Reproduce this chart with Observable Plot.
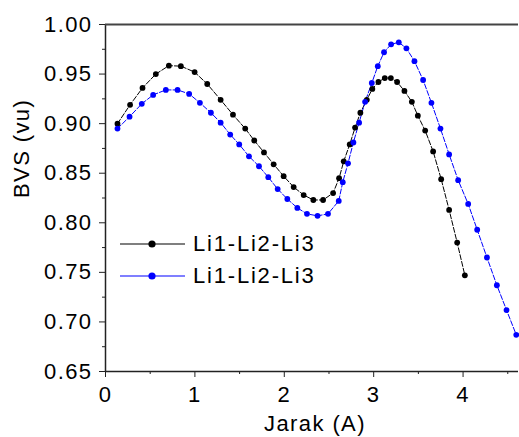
<!DOCTYPE html>
<html>
<head>
<meta charset="utf-8">
<script src="https://cdn.jsdelivr.net/npm/d3@7"></script>
<script src="https://cdn.jsdelivr.net/npm/@observablehq/plot@0.6"></script>
<style>
  html, body { margin: 0; padding: 0; background: #fff; }
  #wrap { position: relative; width: 519px; height: 437px; }
  #legend { position: absolute; left: 0; top: 0; font-family: "Liberation Sans", Arial, sans-serif; font-size: 22px; letter-spacing: 1.8px; }
  .row { position: absolute; display: flex; align-items: center; white-space: nowrap; }
</style>
</head>
<body>
<div id="wrap"></div>
<script>
// Series 1 (black)
const blackX = [0.134,0.275,0.414,0.563,0.709,0.843,0.997,1.138,1.288,1.426,1.563,1.664,1.773,1.881,1.993,2.105,2.217,2.325,2.434,2.546,2.613,2.665,2.732,2.792,2.851,2.923,2.985,3.053,3.124,3.192,3.262,3.344,3.427,3.494,3.576,3.665,3.755,3.844,3.934,4.020];
const blackY = [0.900,0.919,0.936,0.950,0.9585,0.958,0.952,0.940,0.924,0.909,0.895,0.883,0.871,0.859,0.847,0.836,0.828,0.823,0.823,0.830,0.845,0.862,0.879,0.896,0.911,0.924,0.935,0.942,0.946,0.946,0.942,0.933,0.922,0.908,0.893,0.872,0.844,0.813,0.780,0.747];
// Series 2 (blue)
const blueX = [0.134,0.269,0.406,0.533,0.675,0.806,0.936,1.056,1.179,1.288,1.395,1.496,1.605,1.717,1.821,1.926,2.034,2.146,2.254,2.372,2.489,2.609,2.654,2.713,2.773,2.837,2.904,2.979,3.046,3.116,3.195,3.281,3.366,3.456,3.553,3.646,3.747,3.844,3.945,4.057,4.158,4.267,4.378,4.486,4.595];
const blueY = [0.895,0.907,0.920,0.929,0.934,0.934,0.930,0.921,0.911,0.901,0.889,0.879,0.867,0.857,0.846,0.834,0.824,0.815,0.809,0.807,0.809,0.822,0.841,0.860,0.881,0.901,0.922,0.941,0.958,0.972,0.980,0.982,0.976,0.963,0.944,0.921,0.895,0.869,0.843,0.819,0.793,0.765,0.737,0.712,0.687];

const seriesNames = ["Li1-Li2-Li3", "Li1-Li2-Li3"];
const seriesColors = ["#000000", "#0000ff"];
const xLabel = "Jarak (A)";
const yLabel = "BVS (vu)";
const xMajor = [0, 1, 2, 3, 4];
const xMinor = [0.5, 1.5, 2.5, 3.5, 4.5];
const yMajor = [0.65, 0.70, 0.75, 0.80, 0.85, 0.90, 0.95, 1.00];
const yMinor = [0.675, 0.725, 0.775, 0.825, 0.875, 0.925, 0.975];

const black = blackX.map((x, i) => ({x, y: blackY[i]}));
const blue = blueX.map((x, i) => ({x, y: blueY[i]}));

const axisColor = "#222";

const chart = Plot.plot({
  width: 519,
  height: 437,
  marginLeft: 105,
  marginRight: 1,
  marginTop: 24,
  marginBottom: 66,
  style: {fontFamily: "'Liberation Sans', Arial, sans-serif", fontSize: "22px", letterSpacing: "1.4px", color: "#000", background: "#fff", overflow: "visible"},
  x: {domain: [0, 4.62]},
  y: {domain: [0.65, 1.0]},
  marks: [
    Plot.axisX(xMajor, {tickSize: 6, tickPadding: 9, tickFormat: d => d3.format("d")(d), label: null, stroke: axisColor}),
    Plot.axisX(xMinor, {tickSize: 3, tickFormat: () => "", label: null, stroke: axisColor}),
    Plot.axisY(yMajor, {tickSize: 6, tickPadding: 7, tickFormat: d3.format(".2f"), label: null, stroke: axisColor}),
    Plot.axisY(yMinor, {tickSize: 3, tickFormat: () => "", label: null, stroke: axisColor}),
    Plot.ruleX([0], {stroke: axisColor, strokeWidth: 1.5}),
    Plot.ruleY([0.65], {stroke: axisColor, strokeWidth: 1.5}),
    Plot.ruleY([1.0], {stroke: "#444", strokeWidth: 2}),
    Plot.line(black, {x: "x", y: "y", stroke: seriesColors[0], strokeWidth: 1, strokeDasharray: "5,2"}),
    Plot.line(blue, {x: "x", y: "y", stroke: seriesColors[1], strokeWidth: 1, strokeDasharray: "5,2"}),
    Plot.dot(black, {x: "x", y: "y", r: 2.9, fill: seriesColors[0], stroke: "none"}),
    Plot.dot(blue, {x: "x", y: "y", r: 2.9, fill: seriesColors[1], stroke: "none"}),
    Plot.text([xLabel], {frameAnchor: "bottom", dx: 3, dy: 59, fontSize: 22, letterSpacing: "1.6px"}),
    Plot.text([yLabel], {frameAnchor: "left", rotate: -90, dx: -84, fontSize: 22, letterSpacing: "1.6px"})
  ]
});

const wrap = document.getElementById("wrap");
wrap.appendChild(chart);

// Legend overlay
const legend = document.createElement("div");
legend.id = "legend";
const rowsY = [244, 276];
seriesNames.forEach((name, i) => {
  const row = document.createElement("div");
  row.className = "row";
  row.style.left = "120px";
  row.style.top = (rowsY[i] - 14) + "px";
  row.style.height = "28px";
  row.innerHTML = `<svg width="66" height="28" style="overflow:visible"><line x1="0" x2="65" y1="14" y2="14" stroke="${seriesColors[i]}" stroke-width="1.2"/><circle cx="32" cy="14" r="3.6" fill="${seriesColors[i]}"/></svg><span style="margin-left:7px;color:#000">${name}</span>`;
  legend.appendChild(row);
});
wrap.appendChild(legend);
</script>
</body>
</html>
